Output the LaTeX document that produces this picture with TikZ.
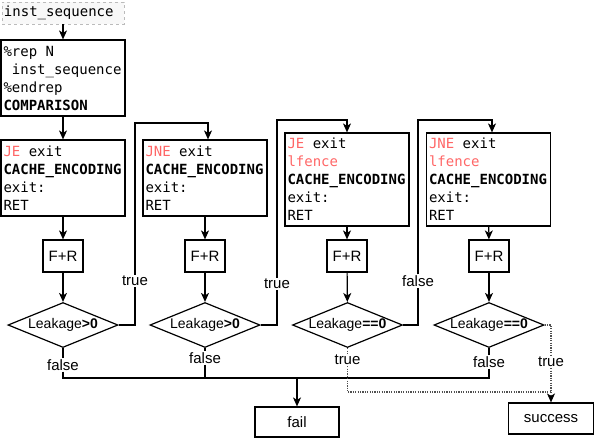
\documentclass[tikz,border=0pt]{standalone}
\usepackage{fontspec}
\setmainfont{Liberation Sans}
\setmonofont{DejaVu Sans Mono}
\usepackage{xcolor}
\usepackage{tikz}
\usetikzlibrary{calc,arrows.meta,shapes.geometric}
\definecolor{ink}{HTML}{000000}
\definecolor{kw}{HTML}{FF6666}
\definecolor{seqline}{HTML}{BBBBBB}
\definecolor{seqbg}{HTML}{F8F8F8}
\definecolor{dotc}{HTML}{505050}
\newcommand{\kw}[1]{\textcolor{kw}{#1}}
\tikzset{
  line/.style={draw=ink, line width=1.2pt},
  arr/.style={line, -{Stealth[length=9pt,width=8pt,inset=2.5pt]}},
  dotl/.style={draw=dotc, line width=1.2pt, dash pattern=on 1.2pt off 1.2pt},
  dotarr/.style={dotl, -{Stealth[length=9pt,width=8pt,inset=2.5pt,color=ink]}},
  code/.style={draw=ink, line width=1.2pt, align=left, text width=119pt,
    inner xsep=2.5pt, inner ysep=0pt, minimum height=76pt,
    font=\ttfamily\fontsize{14}{18}\selectfont,
    execute at begin node={\spaceskip=0.602em\relax}},
  code5/.style={code, minimum height=93pt},
  seqbox/.style={draw=seqline, fill=seqbg, dashed, line width=0.8pt, align=left,
    text width=118pt, inner xsep=2pt, inner ysep=0pt, minimum height=22pt,
    font=\ttfamily\fontsize{14}{16}\selectfont},
  box/.style={draw=ink, line width=1.2pt, inner sep=0pt, font=\fontsize{15}{17}\selectfont},
  cond/.style={diamond, draw=ink, line width=1.2pt, inner sep=-1.5pt, aspect=2.44,
    minimum width=110pt, minimum height=45pt, font=\fontsize{14}{16}\selectfont},
  lbl/.style={fill=white, inner sep=1pt, font=\fontsize{15}{17}\selectfont}
}
\begin{document}
\begin{tikzpicture}[x=1pt,y=-1pt]
  \useasboundingbox (0,0) rectangle (594,440);
  % code blocks
  \node[seqbox] (seq) at (63,13) {inst\_sequence};
  \node[code] (rep) at (63,78) {\%rep N\\\phantom{x}inst\_sequence\\\%endrep\\\textbf{COMPARISON}};
  \node[code] (b1) at (63,178) {\kw{JE} exit\\\textbf{CACHE\_ENCODING}\\exit:\\RET};
  \node[code] (b2) at (205,178) {\kw{JNE} exit\\\textbf{CACHE\_ENCODING}\\exit:\\RET};
  \node[code5] (b3) at (347,179.5) {\kw{JE} exit\\\kw{lfence}\\\textbf{CACHE\_ENCODING}\\exit:\\RET};
  \node[code5] (b4) at (488.5,179.5) {\kw{JNE} exit\\\kw{lfence}\\\textbf{CACHE\_ENCODING}\\exit:\\RET};
  % probes and checks
  \node[box, minimum width=40pt, minimum height=32pt] (fr1) at (63,256) {F+R};
  \node[box, minimum width=40pt, minimum height=32pt] (fr2) at (205,256) {F+R};
  \node[box, minimum width=40pt, minimum height=32pt] (fr3) at (347,256) {F+R};
  \node[box, minimum width=40pt, minimum height=32pt] (fr4) at (489,256) {F+R};
  \node[cond] (d1) at (63,325) {Leakage\textbf{>0}};
  \node[cond] (d2) at (205,325) {Leakage\textbf{>0}};
  \node[cond] (d3) at (347.5,325) {Leakage\textbf{==0}};
  \node[cond] (d4) at (489,325) {Leakage\textbf{==0}};
  \node[box, minimum width=84pt, minimum height=30pt] (fail) at (297,422) {fail};
  \node[box, minimum width=85pt, minimum height=31pt] (success) at (551,418.5) {success};
  % main flow
  \draw[arr] (seq) -- (rep);
  \draw[arr] (rep) -- (b1);
  \foreach \i in {1,...,4} {
    \draw[arr] (b\i) -- (fr\i);
    \draw[arr] (fr\i) -- (d\i);
  }
  % loops to the next block
  \coordinate (k1) at (208,123);
  \coordinate (k2) at (347,120);
  \coordinate (k3) at (492,120);
  \node[lbl] (t1) at (135,281) {true};
  \node[lbl] (t2) at (277,284) {true};
  \node[lbl] (f3) at (418,281) {false};
  \draw[line] (d1.east) -| (t1);
  \draw[arr] (t1) |- (k1) -- (k1 |- b2.north);
  \draw[line] (d2.east) -| (t2);
  \draw[arr] (t2) |- (k2) -- (k2 |- b3.north);
  \draw[line] (d3.east) -| (f3);
  \draw[arr] (f3) |- (k3) -- (k3 |- b4.north);
  % to fail
  \node[lbl] (f1) at (63,365) {false};
  \node[lbl] (f2) at (205,358) {false};
  \node[lbl] (f4) at (489,362) {false};
  \coordinate (bus) at (297,378);
  \draw[line] (d1) -- (f1) (f1) |- (bus);
  \draw[line] (d2) -- (f2) (f2) |- (bus);
  \draw[line] (d4) -- (f4) (f4) |- (bus);
  \draw[arr] (bus) -- (fail);
  % to success
  \node[lbl] (t3) at (347.5,360) {true};
  \node[lbl] (t4) at (551,362) {true};
  \coordinate (m) at (551,392);
  \draw[dotl] (d3) -- (t3) (t3) |- (m);
  \draw[dotl] (d4.east) -| (t4);
  \draw[dotarr] (t4) -- (success);
\end{tikzpicture}
\end{document}
